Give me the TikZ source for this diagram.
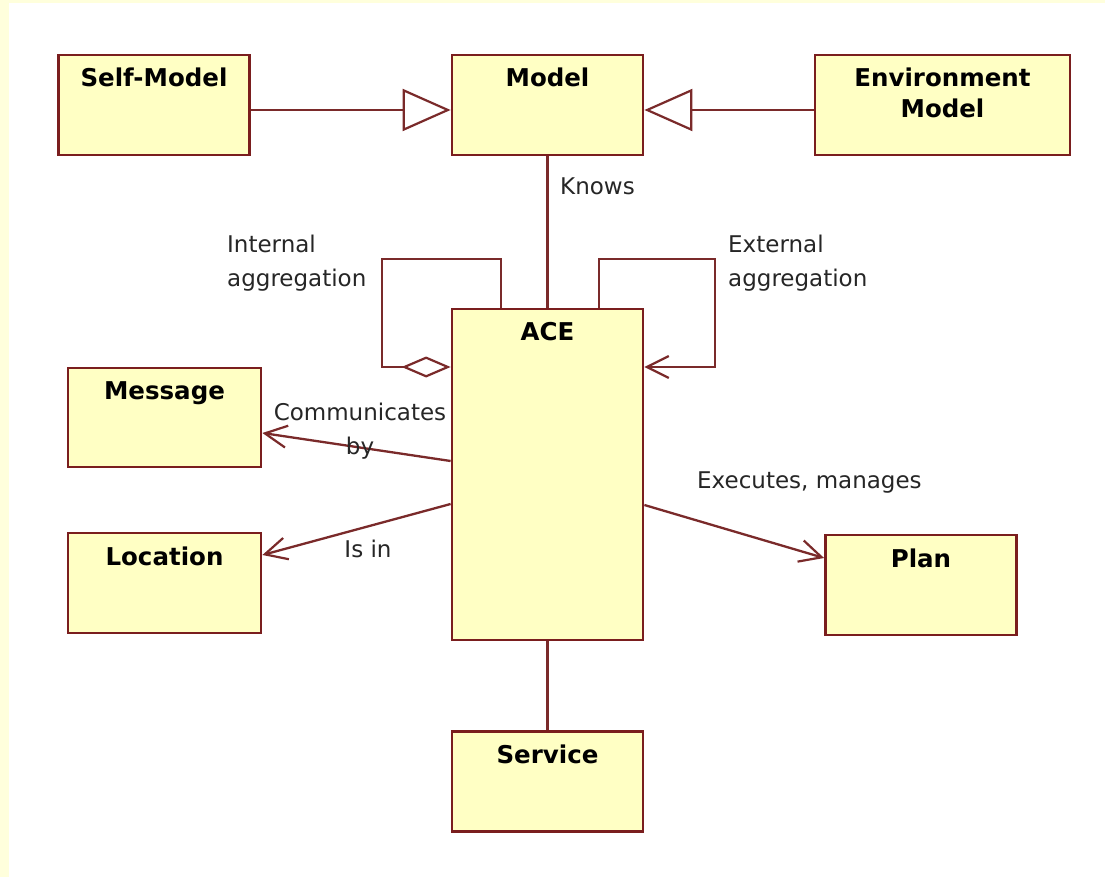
\documentclass[tikz,border=0pt]{standalone}
\usepackage{fontspec}
\setmainfont{DejaVu Sans}
\usetikzlibrary{arrows.meta}

\definecolor{boxfill}{HTML}{FFFFC4}
\definecolor{boxedge}{HTML}{7A1E1E}
\definecolor{linkcol}{HTML}{7A2A2A}
\definecolor{framecol}{HTML}{FFFFDC}

\tikzset{
  classbox/.style={draw=boxedge, fill=boxfill, line width=2.8pt, inner sep=0pt,
    minimum width=191pt, minimum height=100pt},
  classname/.style={font=\fontsize{24.5}{31}\selectfont\bfseries, inner sep=0pt, align=center},
  linktext/.style={font=\fontsize{23}{34}\selectfont, inner sep=0pt, text=black!85},
  link/.style={draw=linkcol, line width=2.3pt},
  navlink/.style={link, -{Straight Barb[length=22pt, width=22pt, line width=2.2pt]}},
  genlink/.style={link, -{Triangle[open, length=48pt, width=42pt, line width=2.2pt, fill=white]}},
  agglink/.style={link, -{Diamond[open, length=49pt, width=21pt, line width=2.2pt, fill=white]}},
}

\begin{document}
\begin{tikzpicture}[x=1pt, y=-1pt]
  % page and its pale frame on the left and top
  \useasboundingbox (0,0) rectangle (1105,877);
  \fill[framecol] (0,0) rectangle (1105,877);
  \fill[white] (9,3) rectangle (1105,877);

  % classes
  \node[classbox] (self) at (154,105) {};
  \node[classname, anchor=north] at ([yshift=-14pt]self.north) {Self-Model};
  \node[classbox] (model) at (547.5,105) {};
  \node[classname, anchor=north] at ([yshift=-14pt]model.north) {Model};
  \node[classbox, minimum width=255pt] (env) at (942.5,105) {};
  \node[classname, anchor=north] at ([yshift=-14pt]env.north) {Environment\\Model};

  \node[classbox, minimum height=331pt] (ace) at (547.5,474.5) {};
  \node[classname, anchor=north] at ([yshift=-15pt]ace.north) {ACE};

  \node[classbox, minimum width=193pt, minimum height=99pt] (message) at (164.5,417.5) {};
  \node[classname, anchor=north] at ([yshift=-15pt]message.north) {Message};
  \node[classbox, minimum width=193pt] (location) at (164.5,583) {};
  \node[classname, anchor=north] at ([yshift=-15pt]location.north) {Location};
  \node[classbox] (plan) at (921,585) {};
  \node[classname, anchor=north] at ([yshift=-15pt]plan.north) {Plan};
  \node[classbox] (service) at (547.5,781.5) {};
  \node[classname, anchor=north] at ([yshift=-15pt]service.north) {Service};

  % generalisation
  \draw[genlink] ([yshift=-5pt]self.east) -- ([yshift=-5pt]model.west);
  \draw[genlink] ([yshift=-5pt]env.west) -- ([yshift=-5pt]model.east);

  % association to the model
  \draw[link] (model.south) -- (ace.north);
  \node[linktext, anchor=north west] (knows) at (560,178) {Knows};

  % self aggregations of ACE
  \coordinate (ia-tr) at (501,259);
  \coordinate (ia-tl) at (382,259);
  \coordinate (ia-bl) at (382,367);
  \draw[agglink] (ace.north -| ia-tr) -- (ia-tr) -- (ia-tl) -- (ia-bl) -- (ace.west |- ia-bl);
  \node[linktext, anchor=north west, align=left] (intagg) at (227,235) {Internal\\aggregation};

  \coordinate (ea-tl) at (599,259);
  \coordinate (ea-tr) at (715,259);
  \coordinate (ea-br) at (715,367);
  \draw[navlink] (ace.north -| ea-tl) -- (ea-tl) -- (ea-tr) -- (ea-br) -- (ace.east |- ea-br);
  \node[linktext, anchor=north west, align=left] (extagg) at (728,235) {External\\aggregation};

  % navigable associations
  \draw[navlink] ([yshift=13.5pt]ace.west) -- ([yshift=-15.5pt]message.east);
  \node[linktext, anchor=north, align=center] (comm) at (360,403) {Communicates\\by};

  \draw[navlink] ([yshift=-29.5pt]ace.west) -- ([yshift=28pt]location.east);
  \node[linktext, anchor=north] (isin) at (368,540) {Is in};

  \draw[navlink] ([yshift=-30.5pt]ace.east) -- ([yshift=27pt]plan.west);
  \node[linktext, anchor=north west] (exec) at (697,472) {Executes, manages};

  \draw[link] (ace.south) -- (service.north);
\end{tikzpicture}
\end{document}
